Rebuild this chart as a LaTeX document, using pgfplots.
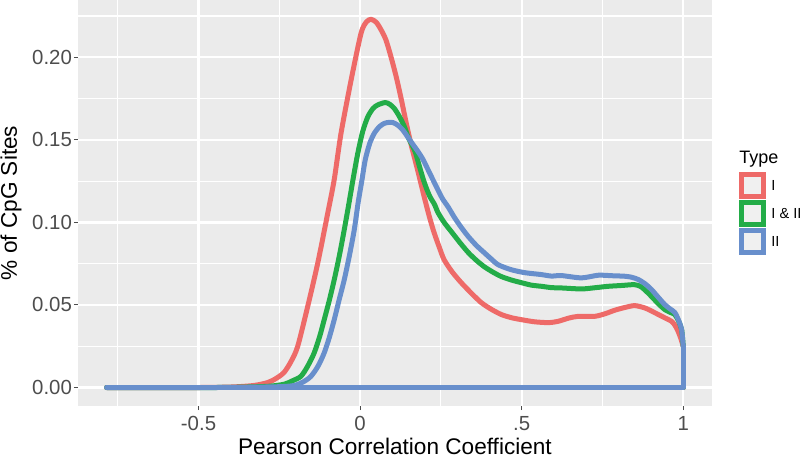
\documentclass[border=0pt]{standalone}
\usepackage{fontspec}
\setmainfont{Liberation Sans}
\usepackage{pgfplots}
\pgfplotsset{compat=1.18}
\definecolor{typeI}{RGB}{238,106,104}
\definecolor{typeB}{RGB}{35,172,72}
\definecolor{typeII}{RGB}{104,143,204}
\definecolor{panel}{RGB}{235,235,235}
\definecolor{keybg}{RGB}{240,240,240}
\definecolor{tickc}{RGB}{77,77,77}

\begin{document}
\begin{tikzpicture}
\begin{axis}[
  scale only axis, width=317pt, height=203pt,
  at={(0,0)}, anchor=south west,
  xmin=-0.873, xmax=1.089, ymin=-0.0112, ymax=0.2347,
  axis background/.style={fill=panel},
  axis line style={draw=none},
  xtick={-0.5,0,0.5,1}, xticklabels={-0.5,0,.5,1},
  minor xtick={-0.75,-0.25,0.25,0.75},
  ytick={0,0.05,0.1,0.15,0.2},
  yticklabels={0.00,0.05,0.10,0.15,0.20},
  minor ytick={0.025,0.075,0.125,0.175,0.225},
  grid=both,
  major grid style={white,line width=1.1pt},
  minor grid style={white,line width=0.55pt},
  tick align=outside, major tick length=2pt, minor tick length=0pt,
  xtick pos=lower, ytick pos=left,
  tick style={tickc,line width=0.5pt},
  ticklabel style={font=\fontsize{10.2}{12}\selectfont, text=tickc},
  yticklabel style={xshift=2.5pt},
  xticklabel style={yshift=0.5pt},
  xlabel={Pearson Correlation Coefficient},
  ylabel={\% of CpG Sites},
  label style={font=\fontsize{11.3}{13}\selectfont},
  xlabel style={at={(axis description cs:0.5,0)}, anchor=base, yshift=-24pt},
  ylabel style={at={(axis description cs:0,0.5)}, anchor=base, yshift=30.5pt},
  every axis plot/.append style={line width=2.5pt, line join=round, line cap=round},
  curve/.style={smooth, tension=0.45},
]
% Type I
\addplot[typeI, curve] coordinates {
(-0.784,0) (-0.5,0) (-0.40,0.0003) (-0.33,0.0012) (-0.286,0.0030) (-0.26,0.0055)
(-0.235,0.0092) (-0.213,0.0160) (-0.193,0.0250) (-0.162,0.0492) (-0.131,0.0754)
(-0.100,0.1057) (-0.080,0.126) (-0.059,0.154) (-0.028,0.186) (0.003,0.2146)
(0.020,0.2215) (0.034,0.2230) (0.050,0.2212) (0.065,0.2166) (0.080,0.2105)
(0.096,0.200) (0.112,0.188) (0.127,0.175) (0.143,0.160) (0.158,0.147)
(0.175,0.134) (0.189,0.123) (0.199,0.115) (0.215,0.103) (0.229,0.0938)
(0.245,0.0850) (0.260,0.0774) (0.285,0.0700) (0.313,0.0635) (0.345,0.0570)
(0.375,0.0514) (0.405,0.0475) (0.437,0.0442) (0.470,0.0422) (0.499,0.0411)
(0.540,0.0398) (0.583,0.0393) (0.613,0.0401) (0.645,0.0420) (0.675,0.0431)
(0.726,0.0431) (0.760,0.0448) (0.788,0.0468) (0.820,0.0485) (0.850,0.0496)
(0.881,0.0482) (0.905,0.0460) (0.923,0.0442) (0.945,0.0420) (0.964,0.0401)
(0.975,0.0375) (0.984,0.0341) (0.992,0.0300) (1.0,0.025)
};
\addplot[typeI] coordinates {(1.0,0.025) (1.0,0) (-0.784,0)};
% Type I & II
\addplot[typeB, curve] coordinates {
(-0.784,0) (-0.45,0) (-0.35,0.0003) (-0.28,0.0008) (-0.235,0.0020) (-0.21,0.0040)
(-0.183,0.0068) (-0.162,0.0130) (-0.142,0.0210) (-0.125,0.0310) (-0.111,0.0411)
(-0.095,0.0530) (-0.080,0.0653) (-0.064,0.080) (-0.049,0.0956) (-0.035,0.111)
(-0.021,0.127) (-0.007,0.142) (0.008,0.155) (0.024,0.164) (0.040,0.169)
(0.055,0.1712) (0.078,0.1726) (0.092,0.1715) (0.106,0.169) (0.122,0.164)
(0.137,0.158) (0.150,0.151) (0.170,0.143) (0.185,0.133) (0.199,0.124)
(0.215,0.116) (0.230,0.111) (0.241,0.106) (0.260,0.100) (0.282,0.0945)
(0.310,0.0875) (0.335,0.0817) (0.360,0.0770) (0.384,0.0732) (0.410,0.0700)
(0.437,0.0672) (0.470,0.0650) (0.499,0.0635) (0.530,0.0620) (0.561,0.0613)
(0.592,0.0605) (0.623,0.0603) (0.685,0.0597) (0.730,0.0605) (0.768,0.0613)
(0.810,0.0618) (0.849,0.0623) (0.868,0.0612) (0.880,0.0593) (0.895,0.0565)
(0.911,0.0532) (0.927,0.0500) (0.943,0.0472) (0.960,0.0455) (0.974,0.0442)
(0.985,0.0405) (0.995,0.0351) (1.0,0.025)
};
\addplot[typeB] coordinates {(1.0,0.025) (1.0,0) (-0.784,0)};
% Type II
\addplot[typeII, curve] coordinates {
(-0.784,0) (-0.45,0) (-0.33,0.0002) (-0.25,0.0005) (-0.204,0.0012) (-0.175,0.0035)
(-0.152,0.0068) (-0.130,0.0130) (-0.111,0.0210) (-0.095,0.0305) (-0.080,0.0411)
(-0.065,0.0530) (-0.049,0.0653) (-0.033,0.080) (-0.018,0.0956) (-0.006,0.112)
(0.006,0.126) (0.016,0.138) (0.030,0.148) (0.044,0.154) (0.060,0.1580)
(0.075,0.1600) (0.090,0.1606) (0.101,0.1605) (0.116,0.1590) (0.132,0.156)
(0.150,0.151) (0.168,0.146) (0.179,0.143) (0.195,0.138) (0.210,0.132)
(0.220,0.128) (0.240,0.120) (0.256,0.114) (0.272,0.1095) (0.292,0.103)
(0.313,0.0970) (0.335,0.0914) (0.360,0.0860) (0.384,0.0817) (0.405,0.0780)
(0.427,0.0744) (0.465,0.0715) (0.508,0.0696) (0.561,0.0684) (0.592,0.0675)
(0.623,0.0678) (0.685,0.0664) (0.737,0.0680) (0.780,0.0677) (0.818,0.0674)
(0.840,0.0668) (0.861,0.0654) (0.882,0.0628) (0.902,0.0593) (0.922,0.0548)
(0.943,0.0502) (0.960,0.0475) (0.974,0.0454) (0.985,0.0410) (0.995,0.0351)
(1.0,0.025)
};
\addplot[typeII] coordinates {(1.0,0.025) (1.0,0) (-0.784,0)};
\end{axis}
% legend
\node[anchor=base west,font=\fontsize{9}{11}\selectfont,inner sep=0pt] at (330.5pt,121.3pt) {Type};
\draw[typeI,line width=2.5pt,fill=keybg] (332pt,104.8pt) rectangle (343pt,115.8pt);
\draw[typeB,line width=2.5pt,fill=keybg] (332pt,90.8pt) rectangle (343pt,101.8pt);
\draw[typeII,line width=2.5pt,fill=keybg] (332pt,76.75pt) rectangle (343pt,87.75pt);
\node[anchor=west,font=\fontsize{7.3}{9}\selectfont,inner sep=0pt] at (346.5pt,110.3pt) {I};
\node[anchor=west,font=\fontsize{7.3}{9}\selectfont,inner sep=0pt] at (346.5pt,96.3pt) {I \& II};
\node[anchor=west,font=\fontsize{7.3}{9}\selectfont,inner sep=0pt] at (346.5pt,82.25pt) {II};
\pgfresetboundingbox
\useasboundingbox (-39pt,-25pt) rectangle (361pt,203pt);
\end{tikzpicture}
\end{document}
